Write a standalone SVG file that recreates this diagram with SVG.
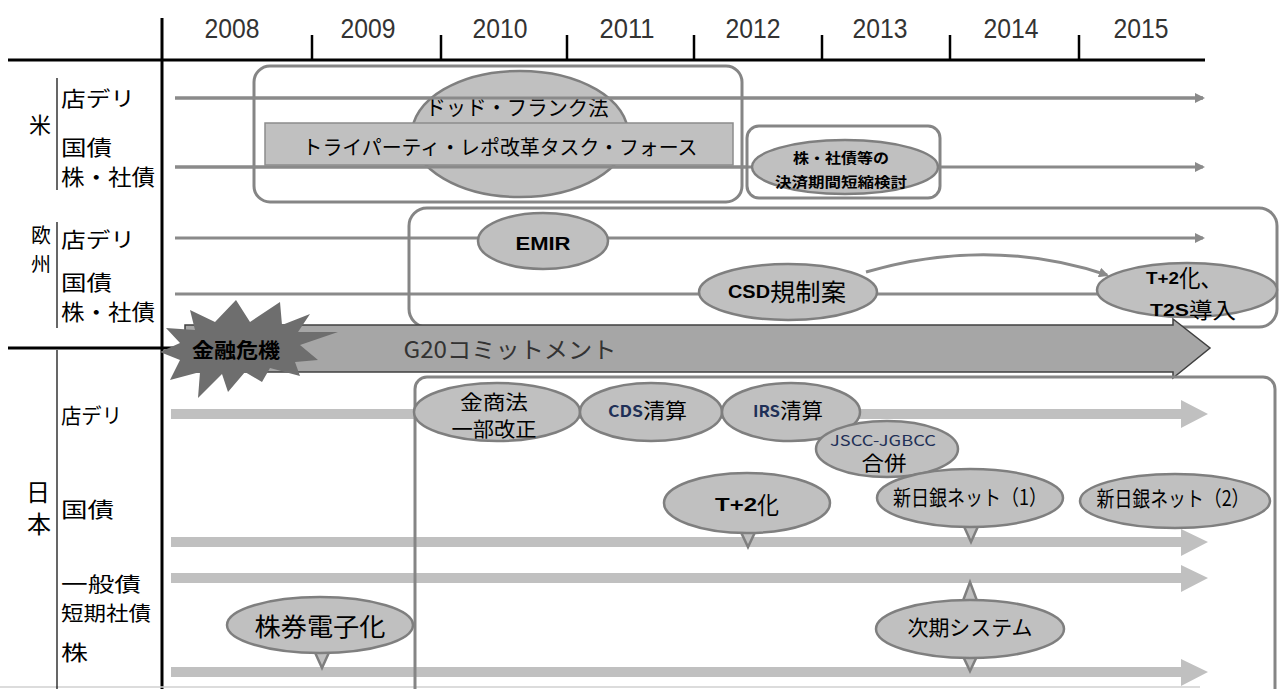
<svg xmlns="http://www.w3.org/2000/svg" width="1281" height="689" viewBox="0 0 1281 689">
<style>
.j{font-family:"Noto Sans CJK JP","Noto Sans",sans-serif;fill:#000}
.l{font-family:"Liberation Sans",Arial,sans-serif}
.b{font-weight:bold}
.c{text-anchor:middle}
.yr{font-family:"Liberation Sans",Arial,sans-serif;font-size:27px;fill:#333;text-anchor:middle}
.ax{stroke:#000;stroke-width:3;fill:none}
.thin{stroke:#000;stroke-width:1.2;fill:none}
.box{fill:none;stroke:#858585;stroke-width:3}
.el{fill:#c0c0c0;stroke:#7f7f7f;stroke-width:2.5}
.tl{stroke:#8a8a8a;stroke-width:3;fill:none}
.fat{fill:#c0c0c0}
</style>
<defs>
<marker id="ah" markerWidth="10" markerHeight="10" refX="8" refY="5" orient="auto" markerUnits="userSpaceOnUse">
<path d="M0,0 L10,5 L0,10 Z" fill="#8a8a8a"/>
</marker>
</defs>
<rect width="1281" height="689" fill="#fff"/>

<g id="axes">
<line class="ax" x1="8" y1="60" x2="1205" y2="60"/>
<line class="ax" x1="162" y1="18" x2="162" y2="689"/>
<line class="ax" x1="8" y1="348" x2="185" y2="348" stroke-width="2.5"/>
<g stroke="#000" stroke-width="2.5">
<line x1="312" y1="35" x2="312" y2="60"/>
<line x1="441" y1="35" x2="441" y2="60"/>
<line x1="567" y1="35" x2="567" y2="60"/>
<line x1="694" y1="35" x2="694" y2="60"/>
<line x1="822" y1="35" x2="822" y2="60"/>
<line x1="950" y1="35" x2="950" y2="60"/>
<line x1="1079" y1="35" x2="1079" y2="60"/>
</g>
<text class="yr" x="232" y="38" textLength="55" lengthAdjust="spacingAndGlyphs">2008</text>
<text class="yr" x="368" y="38" textLength="55" lengthAdjust="spacingAndGlyphs">2009</text>
<text class="yr" x="500" y="38" textLength="55" lengthAdjust="spacingAndGlyphs">2010</text>
<text class="yr" x="627" y="38" textLength="55" lengthAdjust="spacingAndGlyphs">2011</text>
<text class="yr" x="753" y="38" textLength="55" lengthAdjust="spacingAndGlyphs">2012</text>
<text class="yr" x="880" y="38" textLength="55" lengthAdjust="spacingAndGlyphs">2013</text>
<text class="yr" x="1011" y="38" textLength="55" lengthAdjust="spacingAndGlyphs">2014</text>
<text class="yr" x="1141" y="38" textLength="55" lengthAdjust="spacingAndGlyphs">2015</text>
<line x1="0" y1="687" x2="1200" y2="687" stroke="#d0d0d0" stroke-width="1.5"/>
</g>

<g id="labels-us">
<line class="thin" x1="57" y1="78" x2="57" y2="190"/>
<text class="j c" x="40" y="123" font-size="22" dominant-baseline="central">米</text>
<text class="j" x="61" y="97" font-size="21" dominant-baseline="central" textLength="74" lengthAdjust="spacingAndGlyphs">店デリ</text>
<text class="j" x="61" y="146" font-size="21" dominant-baseline="central" textLength="51" lengthAdjust="spacingAndGlyphs">国債</text>
<text class="j" x="61" y="175" font-size="22" dominant-baseline="central" textLength="94" lengthAdjust="spacingAndGlyphs">株・社債</text>
</g>
<g id="labels-eu">
<line class="thin" x1="57" y1="222" x2="57" y2="328"/>
<text class="j c" x="41" y="234" font-size="20" dominant-baseline="central">欧</text>
<text class="j c" x="41" y="263" font-size="20" dominant-baseline="central">州</text>
<text class="j" x="61" y="238" font-size="21" dominant-baseline="central" textLength="74" lengthAdjust="spacingAndGlyphs">店デリ</text>
<text class="j" x="61" y="281" font-size="21" dominant-baseline="central" textLength="51" lengthAdjust="spacingAndGlyphs">国債</text>
<text class="j" x="61" y="310" font-size="22" dominant-baseline="central" textLength="94" lengthAdjust="spacingAndGlyphs">株・社債</text>
</g>
<g id="labels-jp">
<line class="thin" x1="57" y1="350" x2="57" y2="689"/>
<text class="j c" x="38" y="490" font-size="24" dominant-baseline="central">日</text>
<text class="j c" x="39" y="522" font-size="24" dominant-baseline="central">本</text>
<text class="j" x="61" y="414" font-size="21" dominant-baseline="central" textLength="61" lengthAdjust="spacingAndGlyphs">店デリ</text>
<text class="j" x="61" y="508" font-size="21" dominant-baseline="central" textLength="53" lengthAdjust="spacingAndGlyphs">国債</text>
<text class="j" x="61" y="583" font-size="20" dominant-baseline="central" textLength="80" lengthAdjust="spacingAndGlyphs">一般債</text>
<text class="j" x="61" y="612" font-size="20" dominant-baseline="central" textLength="90" lengthAdjust="spacingAndGlyphs">短期社債</text>
<text class="j" x="61" y="651" font-size="21" dominant-baseline="central" textLength="27" lengthAdjust="spacingAndGlyphs">株</text>
</g>

<g id="connectors">
<line class="tl" x1="175" y1="98" x2="1203" y2="98" marker-end="url(#ah)"/>
<line class="tl" x1="175" y1="167" x2="1203" y2="167" marker-end="url(#ah)"/>
<line class="tl" x1="175" y1="238" x2="1203" y2="238" marker-end="url(#ah)"/>
<line class="tl" x1="175" y1="294" x2="1110" y2="294"/>
<path class="tl" d="M866,272 Q990,236 1107,275" stroke-width="2.5" marker-end="url(#ah)"/>
<polygon class="fat" points="171,409 1181,409 1181,400 1208,414 1181,428 1181,419 171,419"/>
<polygon class="fat" points="171,537 1181,537 1181,529 1208,542 1181,556 1181,547 171,547"/>
<polygon class="fat" points="171,573 1181,573 1181,565 1208,578 1181,592 1181,583 171,583"/>
<polygon class="fat" points="171,667 1181,667 1181,659 1208,672 1181,686 1181,677 171,677"/>
</g>

<g id="dodd-frank-box">
<rect class="box" x="254" y="66" width="488" height="136" rx="16"/>
</g>
<g id="dodd-frank">
<ellipse class="el" cx="520" cy="134" rx="108" ry="63"/>
<text class="j c" x="517" y="106" font-size="21" dominant-baseline="central" textLength="183" lengthAdjust="spacingAndGlyphs">ドッド・フランク法</text>
</g>
<g id="tripartite">
<rect x="265" y="123" width="468" height="42" fill="#c0c0c0" stroke="#8c8c8c" stroke-width="1.5"/>
<text class="j c" x="500" y="146" font-size="20" dominant-baseline="central" textLength="395" lengthAdjust="spacingAndGlyphs">トライパーティ・レポ改革タスク・フォース</text>
</g>
<g id="us-settlement">
<rect class="box" x="747" y="126" width="193" height="72" rx="12"/>
<ellipse class="el" cx="845" cy="167" rx="93" ry="27"/>
<text class="j b c" x="841" y="157" font-size="14" dominant-baseline="central" textLength="96" lengthAdjust="spacingAndGlyphs">株・社債等の</text>
<text class="j b c" x="841" y="181" font-size="14" dominant-baseline="central" textLength="132" lengthAdjust="spacingAndGlyphs">決済期間短縮検討</text>
</g>
<g id="us-lines-over">
<line class="tl" x1="175" y1="98" x2="1203" y2="98"/>
<line class="tl" x1="175" y1="167" x2="746" y2="167"/>
</g>

<g id="eu-box">
<rect class="box" x="409" y="208" width="868" height="119" rx="18"/>
</g>
<g id="emir">
<ellipse class="el" cx="543" cy="241" rx="65" ry="28"/>
<text class="l b c" x="543" y="243" font-size="19" dominant-baseline="central" textLength="55" lengthAdjust="spacingAndGlyphs">EMIR</text>
</g>
<g id="csd">
<ellipse class="el" cx="788" cy="292" rx="89" ry="28"/>
<text class="l b" x="728" y="291" font-size="19" dominant-baseline="central" textLength="42" lengthAdjust="spacingAndGlyphs">CSD</text>
<text class="j" x="770" y="290" font-size="24" dominant-baseline="central" textLength="76" lengthAdjust="spacingAndGlyphs">規制案</text>
</g>
<g id="eu-t2">
<ellipse class="el" cx="1187" cy="290" rx="90" ry="27"/>
<text class="l b" x="1146" y="278" font-size="17" dominant-baseline="central" textLength="33" lengthAdjust="spacingAndGlyphs">T+2</text>
<text class="j" x="1179" y="276" font-size="24" dominant-baseline="central" textLength="43" lengthAdjust="spacingAndGlyphs">化、</text>
<text class="l b" x="1150" y="310" font-size="17" dominant-baseline="central" textLength="39" lengthAdjust="spacingAndGlyphs">T2S</text>
<text class="j" x="1189" y="308" font-size="22" dominant-baseline="central" textLength="47" lengthAdjust="spacingAndGlyphs">導入</text>
</g>

<g id="g20">
<polygon points="185,325 1173,325 1173,319 1210,348 1173,378 1173,372 185,372" fill="#a6a6a6" stroke="#404040" stroke-width="1.5"/>
<text class="j c" x="510" y="348" font-size="23" style="fill:#333" dominant-baseline="central" textLength="213" lengthAdjust="spacingAndGlyphs">G20コミットメント</text>
</g>
<g id="crisis">
<polygon points="236,300 250,322 280,302 282,325 310,314 298,332 338,332 300,345 318,360 295,362 300,376 270,368 262,382 245,372 228,392 222,374 198,398 200,372 170,380 180,360 160,352 180,343 166,328 195,330 190,310 215,322" fill="#6e6e6e"/>
<text class="j b c" x="236" y="349" font-size="20" dominant-baseline="central" textLength="88" lengthAdjust="spacingAndGlyphs">金融危機</text>
</g>

<g id="jp-box">
<rect class="box" x="415" y="377" width="860" height="330" rx="12"/>
</g>
<g id="kinshoho">
<ellipse class="el" cx="497" cy="412" rx="83" ry="29"/>
<text class="j c" x="494" y="401" font-size="20" dominant-baseline="central" textLength="68" lengthAdjust="spacingAndGlyphs">金商法</text>
<text class="j c" x="494" y="428" font-size="20" dominant-baseline="central" textLength="85" lengthAdjust="spacingAndGlyphs">一部改正</text>
</g>
<g id="cds">
<ellipse class="el" cx="651" cy="412" rx="71" ry="29"/>
<text class="j b" x="608" y="410" font-size="16" style="fill:#1f3057" dominant-baseline="central" textLength="35" lengthAdjust="spacingAndGlyphs">CDS</text>
<text class="j" x="643" y="409" font-size="21" dominant-baseline="central" textLength="44" lengthAdjust="spacingAndGlyphs">清算</text>
</g>
<g id="irs">
<ellipse class="el" cx="791" cy="412" rx="69" ry="29"/>
<text class="j b" x="753" y="410" font-size="16" style="fill:#1f3057" dominant-baseline="central" textLength="27" lengthAdjust="spacingAndGlyphs">IRS</text>
<text class="j" x="780" y="409" font-size="21" dominant-baseline="central" textLength="43" lengthAdjust="spacingAndGlyphs">清算</text>
</g>
<g id="jscc">
<ellipse class="el" cx="887" cy="449" rx="71" ry="28"/>
<text class="j c" x="883" y="439" font-size="15" style="fill:#1f3057" dominant-baseline="central" textLength="106" lengthAdjust="spacingAndGlyphs">JSCC-JGBCC</text>
<text class="j c" x="884" y="462" font-size="20" dominant-baseline="central" textLength="45" lengthAdjust="spacingAndGlyphs">合併</text>
</g>
<g id="jp-t2">
<polygon points="739,528 748,547 757,528" class="el"/>
<ellipse class="el" cx="747" cy="503" rx="83" ry="30"/>
<text class="l b" x="715" y="505" font-size="18" dominant-baseline="central" textLength="42" lengthAdjust="spacingAndGlyphs">T+2</text>
<text class="j" x="757" y="503" font-size="24" dominant-baseline="central" textLength="22" lengthAdjust="spacingAndGlyphs">化</text>
</g>
<g id="boj-net-1">
<polygon points="962,522 971,542 980,522" class="el"/>
<ellipse class="el" cx="970" cy="498" rx="93" ry="29"/>
<text class="j c" x="970" y="496" font-size="21" dominant-baseline="central" textLength="154" lengthAdjust="spacingAndGlyphs">新日銀ネット（1）</text>
</g>
<g id="boj-net-2">
<ellipse class="el" cx="1175" cy="501" rx="95" ry="27"/>
<text class="j c" x="1173" y="497" font-size="21" dominant-baseline="central" textLength="153" lengthAdjust="spacingAndGlyphs">新日銀ネット（2）</text>
</g>
<g id="dematerialization">
<polygon points="313,648 322,668 331,648" class="el"/>
<ellipse class="el" cx="320" cy="625" rx="93" ry="28"/>
<text class="j c" x="320" y="625" font-size="25" dominant-baseline="central" textLength="131" lengthAdjust="spacingAndGlyphs">株券電子化</text>
</g>
<g id="next-system">
<polygon points="961,606 970,582 979,606" class="el"/>
<polygon points="961,652 970,671 979,652" class="el"/>
<ellipse class="el" cx="970" cy="629" rx="94" ry="29"/>
<text class="j c" x="970" y="626" font-size="21" dominant-baseline="central" textLength="125" lengthAdjust="spacingAndGlyphs">次期システム</text>
</g>
</svg>
